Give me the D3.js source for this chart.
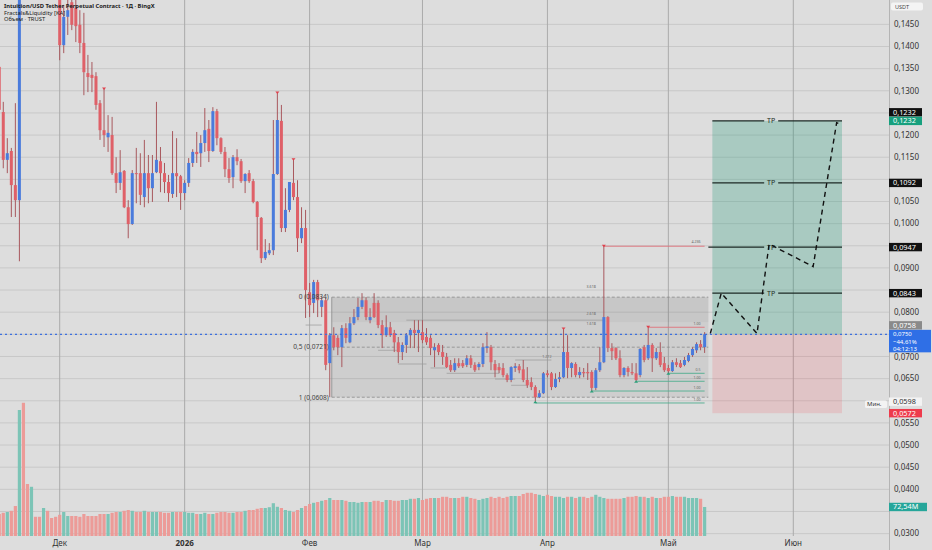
<!DOCTYPE html>
<html>
<head>
<meta charset="utf-8">
<script src="https://cdn.jsdelivr.net/npm/d3@7"></script>
<style>
body { margin: 0; background: #dddddd; overflow: hidden; }
svg { display: block; font-family: "Noto Sans", "DejaVu Sans", sans-serif; }
</style>
</head>
<body>
<svg id="chart" width="932" height="550"></svg>
<script>
// daily candles from 2025-11-16, [open, high, low, close]
const firstDay = "2025-11-16";
const ohlc = [
  // Nov 16-30
  [0.1354,0.1369,0.1245,0.1257],[0.1252,0.1275,0.1125,0.1144],[0.1144,0.1193,0.1114,0.1159],
  [0.1164,0.1171,0.1015,0.1087],[0.1087,0.1272,0.1015,0.1053],[0.1053,0.1680,0.0915,0.1600],
  [0.1600,0.1720,0.1540,0.1560],[0.1560,0.1600,0.1530,0.1545],[0.1545,0.1640,0.1530,0.1610],
  [0.1610,0.1630,0.1560,0.1575],[0.1575,0.1590,0.1540,0.1550],[0.1550,0.1620,0.1530,0.1600],
  [0.1600,0.1610,0.1550,0.1565],[0.1565,0.1580,0.1530,0.1545],[0.1545,0.1570,0.1515,0.1525],
  // Dec
  [0.1525,0.1530,0.1369,0.1403],[0.1403,0.1494,0.1385,0.1467],[0.1467,0.1520,0.1426,0.1482],
  [0.1500,0.1530,0.1437,0.1449],[0.1487,0.1510,0.1410,0.1446],[0.1449,0.1482,0.1385,0.1408],
  [0.1408,0.1476,0.1290,0.1342],[0.1340,0.1381,0.1297,0.1331],[0.1336,0.1365,0.1297,0.1329],
  [0.1333,0.1342,0.1257,0.1268],[0.1272,0.1279,0.1189,0.1211],[0.1211,0.1304,0.1173,0.1200],
  [0.1195,0.1245,0.1162,0.1205],[0.1200,0.1241,0.1110,0.1114],[0.1114,0.1150,0.1069,0.1092],
  [0.1092,0.1166,0.1076,0.1116],[0.1119,0.1121,0.1035,0.1037],[0.1037,0.1053,0.0967,0.0999],
  [0.0999,0.1121,0.0997,0.1114],[0.1114,0.1171,0.1046,0.1112],[0.1114,0.1159,0.1042,0.1065],
  [0.1060,0.1189,0.1037,0.1114],[0.1114,0.1155,0.1046,0.1080],[0.1080,0.1155,0.1049,0.1114],
  [0.1116,0.1275,0.1114,0.1144],[0.1141,0.1173,0.1071,0.1114],[0.1114,0.1137,0.1069,0.1094],
  [0.1094,0.1110,0.1049,0.1069],[0.1067,0.1209,0.1058,0.1114],[0.1114,0.1193,0.1060,0.1107],
  [0.1107,0.1110,0.1031,0.1069],
  // Jan
  [0.1069,0.1098,0.1053,0.1092],[0.1092,0.1148,0.1083,0.1137],[0.1137,0.1168,0.1128,0.1162],
  [0.1162,0.1207,0.1137,0.1157],[0.1159,0.1200,0.1128,0.1182],[0.1182,0.1261,0.1162,0.1211],
  [0.1214,0.1234,0.1139,0.1164],[0.1164,0.1263,0.1162,0.1254],[0.1254,0.1259,0.1177,0.1193],
  [0.1193,0.1195,0.1157,0.1162],[0.1162,0.1173,0.1105,0.1123],[0.1123,0.1148,0.1092,0.1103],
  [0.1105,0.1155,0.1080,0.1150],[0.1150,0.1168,0.1132,0.1141],[0.1141,0.1146,0.1092,0.1096],
  [0.1096,0.1114,0.1069,0.1112],[0.1114,0.1121,0.1092,0.1096],[0.1096,0.1101,0.1046,0.1049],
  [0.1049,0.1051,0.0940,0.1015],[0.1013,0.1015,0.0911,0.0922],[0.0922,0.0965,0.0918,0.0936],
  [0.0933,0.0956,0.0929,0.0940],[0.0940,0.1234,0.0929,0.1112],[0.1112,0.1295,0.1110,0.1234],
  [0.1232,0.1268,0.0981,0.0990],[0.0990,0.1080,0.0981,0.1031],[0.1031,0.1094,0.1026,0.1094],
  [0.1092,0.1144,0.1053,0.1060],[0.1060,0.1098,0.0936,0.0967],[0.0967,0.1037,0.0956,0.0990],
  [0.0990,0.1031,0.0787,0.0850],
  // Feb
  [0.0845,0.0866,0.0789,0.0816],[0.0821,0.0873,0.0798,0.0868],[0.0868,0.0873,0.0789,0.0827],
  [0.0812,0.0834,0.0789,0.0827],[0.0827,0.0832,0.0669,0.0681],[0.0685,0.0753,0.0608,0.0748],
  [0.0748,0.0766,0.0714,0.0721],[0.0742,0.0748,0.0703,0.0721],[0.0721,0.0771,0.0676,0.0764],
  [0.0764,0.0775,0.0730,0.0742],[0.0732,0.0789,0.0730,0.0775],[0.0775,0.0807,0.0771,0.0789],
  [0.0789,0.0832,0.0782,0.0812],[0.0812,0.0843,0.0807,0.0827],[0.0827,0.0834,0.0782,0.0789],
  [0.0782,0.0809,0.0775,0.0789],[0.0821,0.0843,0.0787,0.0789],[0.0821,0.0827,0.0764,0.0771],
  [0.0771,0.0782,0.0719,0.0748],[0.0748,0.0793,0.0744,0.0766],[0.0766,0.0778,0.0744,0.0748],
  [0.0753,0.0760,0.0710,0.0732],[0.0732,0.0744,0.0685,0.0710],[0.0710,0.0732,0.0692,0.0726],
  [0.0726,0.0753,0.0708,0.0748],[0.0748,0.0764,0.0719,0.0760],[0.0760,0.0782,0.0719,0.0753],
  [0.0753,0.0782,0.0710,0.0760],
  // Mar
  [0.0755,0.0782,0.0730,0.0737],[0.0744,0.0764,0.0726,0.0732],[0.0742,0.0748,0.0703,0.0719],
  [0.0714,0.0730,0.0676,0.0721],[0.0726,0.0730,0.0703,0.0710],[0.0710,0.0726,0.0681,0.0699],
  [0.0699,0.0708,0.0674,0.0676],[0.0681,0.0692,0.0665,0.0669],[0.0669,0.0696,0.0665,0.0685],
  [0.0685,0.0696,0.0674,0.0678],[0.0685,0.0692,0.0674,0.0678],[0.0681,0.0703,0.0676,0.0696],
  [0.0696,0.0703,0.0674,0.0681],[0.0681,0.0687,0.0665,0.0669],[0.0676,0.0687,0.0669,0.0683],
  [0.0683,0.0730,0.0676,0.0721],[0.0719,0.0755,0.0708,0.0723],[0.0721,0.0726,0.0669,0.0687],
  [0.0683,0.0692,0.0653,0.0669],[0.0676,0.0685,0.0662,0.0669],[0.0674,0.0685,0.0653,0.0658],
  [0.0658,0.0662,0.0642,0.0647],[0.0647,0.0678,0.0642,0.0676],[0.0674,0.0685,0.0665,0.0678],
  [0.0678,0.0683,0.0662,0.0669],[0.0671,0.0692,0.0642,0.0647],[0.0647,0.0676,0.0629,0.0635],
  [0.0642,0.0653,0.0624,0.0631],[0.0631,0.0635,0.0598,0.0608],[0.0608,0.0624,0.0606,0.0617],
  [0.0617,0.0665,0.0615,0.0662],
  // Apr
  [0.0662,0.0669,0.0653,0.0658],[0.0662,0.0665,0.0624,0.0631],[0.0631,0.0662,0.0629,0.0649],
  [0.0649,0.0665,0.0642,0.0653],[0.0653,0.0762,0.0651,0.0710],[0.0710,0.0748,0.0651,0.0674],
  [0.0674,0.0687,0.0653,0.0685],[0.0683,0.0687,0.0653,0.0658],[0.0658,0.0676,0.0651,0.0665],
  [0.0665,0.0674,0.0653,0.0662],[0.0665,0.0685,0.0647,0.0662],[0.0665,0.0669,0.0622,0.0629],
  [0.0629,0.0674,0.0624,0.0669],[0.0669,0.0721,0.0665,0.0687],[0.0687,0.0949,0.0685,0.0789],
  [0.0789,0.0791,0.0710,0.0719],[0.0719,0.0730,0.0692,0.0712],[0.0719,0.0721,0.0692,0.0696],
  [0.0696,0.0714,0.0653,0.0658],[0.0658,0.0676,0.0653,0.0674],[0.0674,0.0678,0.0655,0.0665],
  [0.0665,0.0685,0.0658,0.0662],[0.0662,0.0685,0.0644,0.0647],[0.0658,0.0719,0.0653,0.0717],
  [0.0721,0.0726,0.0687,0.0692],[0.0696,0.0766,0.0692,0.0726],[0.0726,0.0730,0.0665,0.0696],
  [0.0696,0.0719,0.0692,0.0710],[0.0710,0.0732,0.0676,0.0681],[0.0685,0.0699,0.0665,0.0669],
  // May 1-10
  [0.0674,0.0681,0.0662,0.0667],[0.0667,0.0692,0.0665,0.0687],[0.0687,0.0696,0.0676,0.0681],
  [0.0685,0.0692,0.0674,0.0676],[0.0681,0.0699,0.0678,0.0692],[0.0690,0.0708,0.0687,0.0703],
  [0.0703,0.0721,0.0699,0.0717],[0.0714,0.0732,0.0708,0.0728],[0.0728,0.0737,0.0714,0.0721],
  [0.0721,0.0755,0.0708,0.0750]
];

// volume, millions
const volumes = [
  55,58,60,63,75,315,333,130,123,48,48,70,63,45,48,
  53,60,50,50,50,48,55,50,50,50,55,55,55,58,60,60,63,65,63,60,60,63,60,60,60,60,58,58,60,60,60,
  60,58,58,55,55,58,55,55,58,60,60,58,58,60,60,63,65,65,68,70,70,72,82,73,70,65,63,60,65,70,75,
  80,83,85,88,90,95,90,90,90,88,85,85,83,85,85,85,88,88,85,90,90,88,88,90,90,93,93,95,
  90,93,95,95,95,98,98,95,95,95,98,98,95,93,90,93,95,98,95,98,95,98,100,100,100,105,108,108,105,103,100,
  103,100,98,98,95,98,98,95,98,98,95,98,103,98,95,93,93,93,93,95,98,98,100,98,98,95,98,95,95,98,
  98,100,98,98,98,95,95,95,93,72.54
];

const priceTicks = [0.030,0.035,0.040,0.045,0.050,0.055,0.060,0.065,0.070,0.075,0.080,0.085,
                    0.090,0.095,0.100,0.105,0.110,0.115,0.120,0.125,0.130,0.135,0.140,0.145];
const monthTicks = ["2025-12-01","2026-01-01","2026-02-01","2026-03-01","2026-04-01","2026-05-01","2026-06-01"];
const monthLabels = ["Дек","2026","Фев","Мар","Апр","Май","Июн"];

// fractal highs / lows (dates)
const fractalHighs = ["2025-12-12","2026-01-24","2026-01-28","2026-04-05","2026-04-15","2026-04-26"];
const fractalLows = ["2026-03-29","2026-04-12","2026-04-23","2026-05-01"];

// liquidity lines: [from, to, price]
const liqHigh = [["2026-04-15","2026-05-10",0.0949],["2026-04-26","2026-05-10",0.0766]];
const liqLow = [["2026-03-29","2026-05-10",0.0595],["2026-04-12","2026-05-10",0.0622],
                ["2026-04-23","2026-05-10",0.0644],["2026-05-01","2026-05-10",0.0662]];
const liqSwept = [["2026-01-31","2026-02-04",0.0771],["2026-02-25","2026-04-15",0.0782],
                  ["2026-02-18","2026-02-23",0.0714],["2026-02-23","2026-03-02",0.0683],
                  ["2026-03-03","2026-03-07",0.0674],["2026-03-07","2026-03-20",0.0662],
                  ["2026-03-24","2026-04-02",0.0692],["2026-03-19","2026-03-24",0.0649],
                  ["2026-03-23","2026-03-27",0.0635]];
const extLabels = [["2026-05-09",0.0954,"4.236"],["2026-04-13",0.0852,"3.618"],["2026-04-13",0.0791,"2.618"],
                   ["2026-04-13",0.0768,"1.618"],["2026-04-02",0.0695,"1.272"],["2026-05-09",0.0768,"1.00"],
                   ["2026-05-09",0.0664,"0.5"],["2026-05-09",0.0646,"1.00"],["2026-05-09",0.0624,"1.00"],
                   ["2026-05-09",0.0597,"1.00"]];

// fib retracement
const fibStart = "2026-02-06T12:00", fibEnd = "2026-05-10T22:00";
const fibLevels = [0, 0.5, 1];
const fibHigh = 0.0834, fibLow = 0.0608;

// long position
const posStart = "2026-05-11T22:00", posEnd = "2026-06-13T02:00";
const entry = 0.0750, target = 0.1232, stop = 0.0572;
const takeProfits = [0.1232, 0.1092, 0.0947, 0.0843];

// projected path
const projection = [
  ["2026-05-11T10:00",0.0752],["2026-05-14T03:00",0.0843],["2026-05-23T00:00",0.0752],
  ["2026-05-26T00:00",0.0954],["2026-06-05T22:00",0.0903],["2026-06-11T18:00",0.1228],
  ["2026-06-13T02:00",0.1223]
];

const lastPrice = 0.0750, prevTag = 0.0758, dayLow = 0.0598, lastVolume = 72.54;
const lastChange = "−44,61%", countdown = "04:12:13";

// ---------------------------------------------------------------
const plotRight = 889, plotBottom = 536;
const svg = d3.select("#chart");
const t = s => new Date(s.length > 10 ? s + "Z" : s + "T00:00Z");
const fmt = v => d3.format(".4f")(v).replace(".", ",");

const x = d3.scaleUtc().domain([t("2025-12-01"), t("2026-06-01")]).range([59.7, 793.3]);
const y = d3.scaleLinear().domain([0.0263, 0.1505]).range([550, 0]);
const yv = d3.scaleLinear().domain([0, 340]).range([plotBottom, 400]);

const candles = ohlc.map((d, i) => ({
  date: d3.utcDay.offset(t(firstDay), i), o: d[0], h: d[1], l: d[2], c: d[3], v: volumes[i]
}));
const byDay = new Map(candles.map(d => [+d.date, d]));

svg.append("rect").attr("width", 932).attr("height", 550).attr("fill", "#dddddd");
svg.append("defs").append("clipPath").attr("id", "clip")
  .append("rect").attr("width", plotRight).attr("height", plotBottom);
const plot = svg.append("g").attr("clip-path", "url(#clip)");

// grid
plot.selectAll(".hg").data(priceTicks).join("line")
  .attr("x1", 0).attr("x2", plotRight).attr("y1", d => y(d)).attr("y2", d => y(d))
  .attr("stroke", "#c8c8c8").attr("stroke-width", 1);
plot.selectAll(".vg").data(monthTicks).join("line")
  .attr("x1", d => x(t(d))).attr("x2", d => x(t(d))).attr("y1", 0).attr("y2", plotBottom)
  .attr("stroke", "#ababab").attr("stroke-width", 1);

// position tool
const px0 = x(t(posStart)), px1 = x(t(posEnd));
plot.append("rect").attr("x", px0).attr("width", px1 - px0)
  .attr("y", y(target)).attr("height", y(entry) - y(target)).attr("fill", "rgba(30,150,120,0.27)");
plot.append("rect").attr("x", px0).attr("width", px1 - px0)
  .attr("y", y(entry)).attr("height", y(stop) - y(entry)).attr("fill", "rgba(242,54,69,0.15)");

// fib box
const fx0 = x(t(fibStart)), fx1 = x(t(fibEnd));
const fibY = lv => y(fibHigh - (fibHigh - fibLow) * lv);
plot.append("rect").attr("x", fx0).attr("width", fx1 - fx0)
  .attr("y", fibY(0)).attr("height", fibY(1) - fibY(0)).attr("fill", "rgba(60,60,60,0.09)");
plot.append("rect").attr("x", fx0).attr("width", fx1 - fx0)
  .attr("y", fibY(0)).attr("height", fibY(0.25) - fibY(0)).attr("fill", "rgba(60,60,60,0.04)");
plot.selectAll(".fibl").data(fibLevels).join("line")
  .attr("x1", fx0).attr("x2", fx1).attr("y1", d => fibY(d)).attr("y2", d => fibY(d))
  .attr("stroke", "#8a8a8a").attr("stroke-width", 0.8).attr("stroke-dasharray", "3,2");
plot.append("line").attr("x1", fx0).attr("x2", fx0).attr("y1", fibY(0)).attr("y2", fibY(1))
  .attr("stroke", "#8a8a8a").attr("stroke-width", 0.8);

// liquidity lines
plot.selectAll(".ls").data(liqSwept).join("line")
  .attr("x1", d => x(t(d[0]))).attr("x2", d => x(t(d[1]))).attr("y1", d => y(d[2])).attr("y2", d => y(d[2]))
  .attr("stroke", "#9a9a9a").attr("stroke-width", 0.7);
plot.selectAll(".lh").data(liqHigh).join("line")
  .attr("x1", d => x(t(d[0]))).attr("x2", d => x(t(d[1]))).attr("y1", d => y(d[2])).attr("y2", d => y(d[2]))
  .attr("stroke", "#e0707a").attr("stroke-width", 0.9);
plot.selectAll(".ll").data(liqLow).join("line")
  .attr("x1", d => x(t(d[0]))).attr("x2", d => x(t(d[1]))).attr("y1", d => y(d[2])).attr("y2", d => y(d[2]))
  .attr("stroke", "#4fae8e").attr("stroke-width", 0.9);
plot.selectAll(".el").data(extLabels).join("text")
  .attr("x", d => x(t(d[0]))).attr("y", d => y(d[1]) - 1).attr("text-anchor", "end")
  .attr("font-size", 3.6).attr("fill", "#666").text(d => d[2]);

// volume
plot.selectAll(".vol").data(candles).join("rect")
  .attr("x", d => x(d.date) - 1.6).attr("width", 3.2)
  .attr("y", d => yv(d.v)).attr("height", d => plotBottom - yv(d.v))
  .attr("fill", d => d.c >= d.o ? "#7cc4b6" : "#ec9b98");

// candles
plot.selectAll(".wick").data(candles).join("line")
  .attr("x1", d => x(d.date)).attr("x2", d => x(d.date))
  .attr("y1", d => y(d.h)).attr("y2", d => y(d.l))
  .attr("stroke", "#a8585d").attr("stroke-width", 1);
plot.selectAll(".body").data(candles).join("rect")
  .attr("x", d => x(d.date) - 1.5).attr("width", 3)
  .attr("y", d => y(Math.max(d.o, d.c)))
  .attr("height", d => Math.max(1, Math.abs(y(d.o) - y(d.c))))
  .attr("fill", d => d.c >= d.o ? "#4a7bdc" : "#df6068");

// fib labels on top of candles
plot.selectAll(".fibt").data(fibLevels).join("text")
  .attr("x", fx0 - 3).attr("y", d => fibY(d) + 2.3).attr("text-anchor", "end")
  .attr("font-size", 6.6).attr("fill", "#444")
  .text(d => (d === 0.5 ? "0,5" : d) + " (" + fmt(fibHigh - (fibHigh - fibLow) * d) + ")");

// fractal markers
plot.selectAll(".fh").data(fractalHighs).join("path")
  .attr("d", d => { const c = byDay.get(+t(d)); const cx = x(c.date), cy = y(c.h);
    return `M${cx - 2},${cy - 1.5}L${cx + 2},${cy - 1.5}L${cx},${cy + 1}Z`; })
  .attr("fill", "#e0404c");
plot.selectAll(".fl").data(fractalLows).join("path")
  .attr("d", d => { const c = byDay.get(+t(d)); const cx = x(c.date), cy = y(c.l);
    return `M${cx - 2},${cy + 1.5}L${cx + 2},${cy + 1.5}L${cx},${cy - 1}Z`; })
  .attr("fill", "#2aa07a");

// take profit lines
const tpMid = (px0 + px1) / 2 - 6;
plot.selectAll(".tp").data(takeProfits).join("path")
  .attr("d", d => `M${d === 0.0947 ? px0 - 4 : px0},${y(d)}H${tpMid - 7}M${tpMid + 7},${y(d)}H${px1}`)
  .attr("stroke", "#1e2a26").attr("stroke-width", 1.2);
plot.selectAll(".tpt").data(takeProfits).join("text")
  .attr("x", tpMid).attr("y", d => y(d) + 2.5).attr("text-anchor", "middle")
  .attr("font-size", 7).attr("fill", "#1e2a26").text("TP");

// projected path
plot.append("path").datum(projection)
  .attr("d", d3.line().x(d => x(t(d[0]))).y(d => y(d[1])))
  .attr("fill", "none").attr("stroke", "#111").attr("stroke-width", 1.4).attr("stroke-dasharray", "5,4");

// last price line
plot.append("line").attr("x1", 0).attr("x2", plotRight).attr("y1", y(lastPrice)).attr("y2", y(lastPrice))
  .attr("stroke", "#3b6fe0").attr("stroke-width", 1.2).attr("stroke-dasharray", "2,3");

// header
const header = svg.append("g").attr("fill", "#1a1a1a").attr("font-size", 5.8);
header.append("text").attr("x", 4).attr("y", 7.8).attr("font-weight", "bold")
  .text("Intuition/USD Tether Perpetual Contract · 1Д · BingX");
header.append("text").attr("x", 4).attr("y", 14.5).text("Fractals&Liquidity [KA]");
header.append("text").attr("x", 4).attr("y", 21.2).text("Объем · TRUST");

// x axis labels
svg.selectAll(".ml").data(monthTicks).join("text")
  .attr("x", d => x(t(d))).attr("y", 546).attr("text-anchor", "middle")
  .attr("font-size", 8).attr("fill", "#333")
  .attr("font-weight", (d, i) => monthLabels[i] === "2026" ? "bold" : "normal")
  .text((d, i) => monthLabels[i]);

// right axis: tags first, then skip tick labels hidden under them
const lp = y(lastPrice);
const tags = [
  { v: target, cy: y(target) - 8.6, bg: "#111", fg: "#fff", w: 33 },
  { v: target, cy: y(target), bg: "#17a07e", fg: "#fff", w: 33 },
  ...takeProfits.slice(1).map(v => ({ v, cy: y(v), bg: "#111", fg: "#fff", w: 33 })),
  { v: prevTag, cy: lp - 9, bg: "#8a8a8a", fg: "#fff", w: 33 },
  { v: dayLow, cy: y(dayLow), bg: "#f3f3f3", fg: "#333", w: 33 },
  { v: stop, cy: y(stop), bg: "#ee3b4c", fg: "#fff", w: 33 },
  { v: lastVolume, cy: yv(lastVolume), bg: "#26a69a", fg: "#fff", w: 38,
    label: d3.format(".2f")(lastVolume).replace(".", ",") + "M" }
];
const blocked = tags.map(d => [d.cy - 7, d.cy + 7]).concat([[lp - 8, lp + 20]]);

svg.append("line").attr("x1", plotRight + 0.5).attr("x2", plotRight + 0.5).attr("y1", 0).attr("y2", 550)
  .attr("stroke", "#b4b4b4");
svg.selectAll(".pt").data(priceTicks.filter(v => !blocked.some(b => y(v) > b[0] && y(v) < b[1])))
  .join("text")
  .attr("x", 894).attr("y", d => y(d) + (d === 0.070 ? 3.6 : 2.8)).attr("font-size", 8).attr("fill", "#333")
  .text(d => fmt(d));
svg.append("rect").attr("x", 891).attr("y", 2.5).attr("width", 32).attr("height", 8).attr("rx", 2).attr("fill", "#f4f4f4");
svg.append("text").attr("x", 895).attr("y", 8.6).attr("font-size", 5.5).attr("fill", "#444").text("USDT");

const tagG = svg.selectAll(".tag").data(tags).join("g");
tagG.append("rect").attr("x", plotRight).attr("y", d => d.cy - 4.2).attr("width", d => d.w).attr("height", 8.4)
  .attr("fill", d => d.bg);
tagG.append("text").attr("x", plotRight + 4).attr("y", d => d.cy + 2.5).attr("font-size", 7.3)
  .attr("fill", d => d.fg).text(d => d.label || fmt(d.v));

// last price box
svg.append("rect").attr("x", plotRight).attr("y", lp - 4.5).attr("width", 42).attr("height", 22.5).attr("fill", "#2f6fe6");
svg.selectAll(".lpt").data([fmt(lastPrice), lastChange, countdown]).join("text")
  .attr("x", plotRight + 4).attr("y", (d, i) => lp + 2 + i * 7.2).attr("font-size", 6).attr("fill", "#fff")
  .text(d => d);

// "Мин." label
svg.append("rect").attr("x", 865).attr("y", y(dayLow) - 1.2).attr("width", 22).attr("height", 7.5).attr("rx", 1.5).attr("fill", "#f3f3f3");
svg.append("text").attr("x", 867).attr("y", y(dayLow) + 4.5).attr("font-size", 6).attr("fill", "#333").text("Мин.");
</script>
</body>
</html>
